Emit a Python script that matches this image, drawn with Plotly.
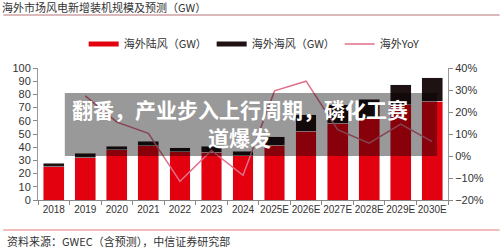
import plotly.graph_objects as go

categories = ["2018", "2019", "2020", "2021", "2022", "2023", "2024",
              "2025E", "2026E", "2027E", "2028E", "2029E", "2030E"]
onshore = [25.2, 32.0, 38.0, 41.0, 36.5, 36.3, 33.6, 41.6, 52.0, 58.0, 62.0, 72.0, 75.0]
offshore = [2.6, 3.4, 2.7, 3.7, 3.1, 4.3, 3.5, 6.4, 12.4, 14.0, 14.2, 15.2, 17.8]
yoy = [None, 27.3, 15.4, 10.3, -11.5, 2.5, -8.8, 29.6, 34.0, 12.0, 5.8, 14.5, 6.5]

RED = "#E3000F"
DARK = "#1E1212"
PINK = "#E0708A"
CJK = "Noto Sans CJK SC"
NUM = "Liberation Sans"

fig = go.Figure()
fig.add_trace(go.Bar(x=categories, y=onshore, marker_color=RED, showlegend=False, name="海外陆风（GW）"))
fig.add_trace(go.Bar(x=categories, y=offshore, marker_color=DARK, showlegend=False, name="海外海风（GW）"))
fig.add_trace(go.Scatter(x=categories, y=yoy, yaxis="y2", mode="lines",
                         line=dict(color=PINK, width=1.5), showlegend=False, name="海外YoY"))
# legend entries
fig.add_trace(go.Scatter(x=[None], y=[None], mode="lines", line=dict(color=RED, width=5), name="海外陆风（GW）"))
fig.add_trace(go.Scatter(x=[None], y=[None], mode="lines", line=dict(color=DARK, width=5), name="海外海风（GW）"))
fig.add_trace(go.Scatter(x=[None], y=[None], mode="lines", line=dict(color=PINK, width=1.5), name="海外YoY"))

W, H = 500, 249
L, R, T, B = 35, 52, 68, 49
pw, ph = W - L - R, H - T - B

def px(x):
    return (x - L) / pw

def py(y):
    return 1 - (y - T) / ph

fig.update_layout(
    width=W, height=H, margin=dict(l=L, r=R, t=T, b=B),
    paper_bgcolor="white", plot_bgcolor="white",
    barmode="stack", bargap=0.34,
    font=dict(family=NUM, size=11, color="#333"),
    xaxis=dict(type="category", showline=True, linecolor="#888", linewidth=1,
               ticks="outside", tickson="boundaries", ticklen=4, tickcolor="#888",
               tickangle=0, showgrid=False, tickfont=dict(family=NUM, size=10, color="#333")),
    yaxis=dict(range=[0, 100], dtick=10, showline=True, linecolor="#999", linewidth=1,
               ticks="outside", ticklen=4, tickcolor="#888", showgrid=False, zeroline=False,
               tickfont=dict(family=NUM, size=11, color="#333")),
    yaxis2=dict(range=[-20, 40], dtick=10, overlaying="y", side="right",
                showline=True, linecolor="#999", linewidth=1, ticks="outside", ticklen=4,
                tickcolor="#888", showgrid=False, zeroline=False, ticksuffix="%",
                tickfont=dict(family=NUM, size=11, color="#333")),
    legend=dict(orientation="h", x=px(81), xanchor="left", y=py(44), yanchor="middle",
                traceorder="normal", entrywidth=83, entrywidthmode="pixels",
                bgcolor="rgba(0,0,0,0)",
                font=dict(family=CJK, size=11, color="#333")),
    title=dict(text="海外市场风电新增装机规模及预测（GW）", x=0.004, xref="container", xanchor="left",
               y=1 - 8 / H, yref="container", yanchor="middle",
               font=dict(family=CJK, size=11, color="#333")),
)

fig.add_shape(type="line", xref="paper", yref="paper", x0=px(0), x1=px(500), y0=py(15), y1=py(15),
              line=dict(color="#D9B9B9", width=2))
fig.add_shape(type="line", xref="paper", yref="paper", x0=px(0), x1=px(500), y0=py(230), y1=py(230),
              line=dict(color="#E27A7A", width=1))
fig.add_annotation(text="资料来源：GWEC（含预测），中信证券研究部", xref="paper", yref="paper",
                   x=px(2), y=py(241), xanchor="left", yanchor="middle", showarrow=False,
                   font=dict(family=CJK, size=11, color="#333"))

# overlay banner
fig.add_shape(type="rect", xref="paper", yref="paper", x0=px(62), x1=px(437), y0=py(156), y1=py(93),
              fillcolor="rgba(0,0,0,0.4)", line=dict(width=0), layer="above")
fig.add_annotation(text="<b>翻番，产业步入上行周期，磷化工赛</b>", xref="paper", yref="paper",
                   x=px(238), y=py(109), xanchor="center", yanchor="middle", showarrow=False,
                   font=dict(family=CJK, size=21, color="white"))
fig.add_annotation(text="<b>道爆发</b>", xref="paper", yref="paper",
                   x=px(238), y=py(136.5), xanchor="center", yanchor="middle", showarrow=False,
                   font=dict(family=CJK, size=21, color="white"))

fig.write_html("out.html")
